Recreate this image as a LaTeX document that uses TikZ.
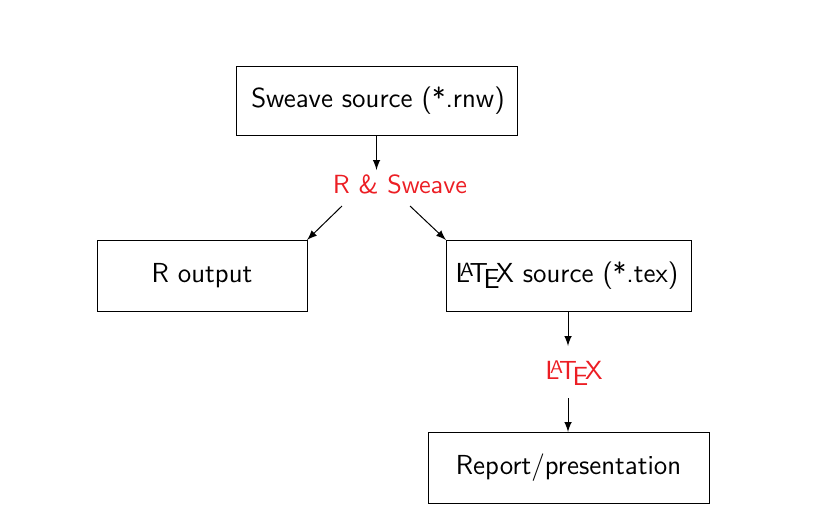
\documentclass[tikz,border=0pt]{standalone}
\usetikzlibrary{arrows}
\definecolor{lblred}{RGB}{236,30,36}
\begin{document}
\begin{tikzpicture}[x=0.4pt,y=-0.4pt,
  every node/.style={font=\sffamily\fontsize{11}{13}\selectfont},
  box/.style={draw,line width=0.4pt},
  lbl/.style={text=lblred,inner sep=0pt,font=\sffamily\fontsize{10.5}{12}\selectfont},
  conn/.style={-latex,line width=0.4pt}]
\useasboundingbox (0,0) rectangle (839,514);
\draw[box] (236,66) rectangle (517,135);
\node (sw) at (378,100.5) {Sweave source (*.rnw)};
\coordinate (swb) at (376.5,135);
\draw[box] (97,240) rectangle (307,311);
\node (ro) at (202,275.5) {R output};
\coordinate (ron) at (307,240);
\draw[box] (446,240) rectangle (691,311);
\node (ls) at (567,275.5) {\LaTeX\ source (*.tex)};
\coordinate (lsn) at (446,240);
\coordinate (lsb) at (568,311);
\draw[box] (428,432) rectangle (709,503);
\node (rp) at (568.5,467.5) {Report/presentation};
\coordinate (rpt) at (568,432);
\node[lbl] (rs) at (400,184) {R \& Sweave};
\coordinate (rst) at (376.5,170);
\coordinate (rsl) at (342,206);
\coordinate (rsr) at (410,206);
\node[lbl] (lx) at (574,373) {\LaTeX};
\coordinate (lxt) at (568,346);
\coordinate (lxb) at (568,398);
\draw[conn] (swb) -- (rst);
\draw[conn] (rsl) -- (ron);
\draw[conn] (rsr) -- (lsn);
\draw[conn] (lsb) -- (lxt);
\draw[conn] (lxb) -- (rpt);
\end{tikzpicture}
\end{document}
